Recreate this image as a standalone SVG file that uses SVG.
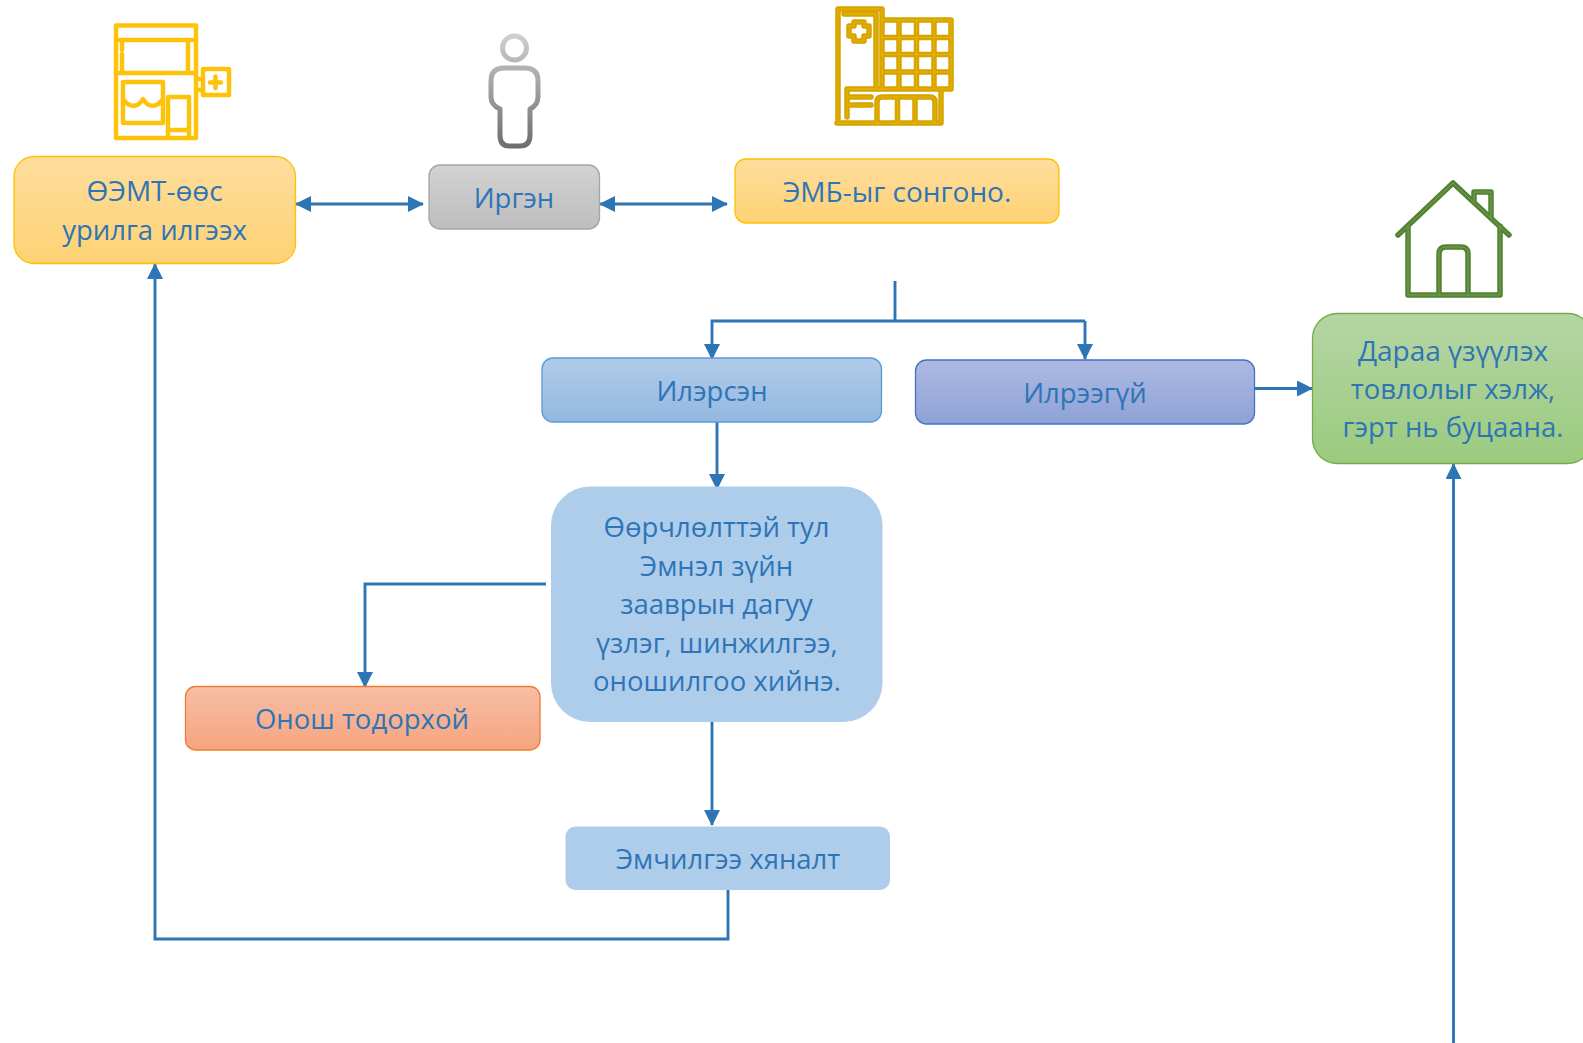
<svg xmlns="http://www.w3.org/2000/svg" width="1583" height="1043" viewBox="0 0 1583 1043">
<style>
text{font-family:"Open Sans","Noto Sans","Liberation Sans",sans-serif;font-size:27.500px;fill:#2e75b6;text-anchor:middle}
.w{font-size:28px}
.c{fill:none;stroke:#2e75b6;stroke-width:2.900}
.i{fill:none;stroke-linejoin:round;stroke-linecap:round}
</style>
<defs>
<marker id="a" markerUnits="userSpaceOnUse" markerWidth="17" markerHeight="16" refX="15" refY="8" orient="auto-start-reverse"><path d="M0 0L16 8L0 16z" fill="#2e75b6"/></marker>
<linearGradient id="y" x1="0" y1="0" x2="0" y2="1"><stop offset="0" stop-color="#fedd9d"/><stop offset="1" stop-color="#fed274"/></linearGradient>
<linearGradient id="g" x1="0" y1="0" x2="0" y2="1"><stop offset="0" stop-color="#d2d2d2"/><stop offset="1" stop-color="#bdbdbd"/></linearGradient>
<linearGradient id="b" x1="0" y1="0" x2="0" y2="1"><stop offset="0" stop-color="#b1cbe9"/><stop offset="1" stop-color="#94b8e1"/></linearGradient>
<linearGradient id="p" x1="0" y1="0" x2="0" y2="1"><stop offset="0" stop-color="#aeb9e1"/><stop offset="1" stop-color="#8ea2d7"/></linearGradient>
<linearGradient id="o" x1="0" y1="0" x2="0" y2="1"><stop offset="0" stop-color="#f7bea5"/><stop offset="1" stop-color="#f6a47f"/></linearGradient>
<linearGradient id="n" x1="0" y1="0" x2="0" y2="1"><stop offset="0" stop-color="#b5d5a4"/><stop offset="1" stop-color="#9bcb7e"/></linearGradient>
<linearGradient id="pg" gradientUnits="userSpaceOnUse" x1="0" y1="34" x2="0" y2="150"><stop offset="0" stop-color="#d0d0d0"/><stop offset="1" stop-color="#6b6b6b"/></linearGradient>
<path id="hosp" d="M838 9H882V20H951V89H941V123H837M838 123V9M844 14H876V89H847V117M882 20V89M899 20V89M916.500 20V89M934 20V89M882 37.500H951M882 54.500H951M882 72H951M847 89H941M847 97H871M847 105H871M877 123V102Q877 97 882 97H930Q935 97 935 102V123M897.500 97V123M915 97V123M854 26V22H864V26H869V36H864V41H854V36H849V26z"/>
<path id="home" d="M1398 235L1453 183L1509 235M1408 226V295H1500V226M1474 201V192H1491V218M1439 295V254Q1439 247 1446 247H1461Q1468 247 1468 254V295"/>
</defs>
<g id="connectors">
<path class="c" d="M296 204H423" marker-start="url(#a)" marker-end="url(#a)"/>
<path class="c" d="M600 204H727" marker-start="url(#a)" marker-end="url(#a)"/>
<path class="c" d="M895 281V321"/>
<path class="c" d="M1085 321H712V359" marker-end="url(#a)"/>
<path class="c" d="M1085 321V359" marker-end="url(#a)"/>
<path class="c" d="M717 422V489" marker-end="url(#a)"/>
<path class="c" d="M1254 388.500H1312" marker-end="url(#a)"/>
<path class="c" d="M546 584H365V687" marker-end="url(#a)"/>
<path class="c" d="M712 722V825" marker-end="url(#a)"/>
<path class="c" d="M728 890V939H155V264" marker-end="url(#a)"/>
<path class="c" d="M1453.500 1043V464" marker-end="url(#a)"/>
</g>
<g id="n1"><rect x="14" y="156.500" width="281.500" height="107" rx="20" fill="url(#y)" stroke="#ffc000" stroke-width="1.300"/><text class="w" x="154.500" y="201">ӨЭМТ-өөс</text><text x="154.500" y="240">урилга илгээх</text></g>
<g id="n2"><rect x="429" y="165" width="170.500" height="64" rx="11" fill="url(#g)" stroke="#a5a5a5" stroke-width="1.300"/><text x="514" y="208">Иргэн</text></g>
<g id="n3"><rect x="735" y="159" width="324" height="64" rx="11" fill="url(#y)" stroke="#ffc000" stroke-width="1.300"/><text class="w" x="897" y="202">ЭМБ-ыг сонгоно.</text></g>
<g id="n4"><rect x="542" y="358" width="339.500" height="64" rx="11" fill="url(#b)" stroke="#5b9bd5" stroke-width="1.300"/><text x="712" y="401">Илэрсэн</text></g>
<g id="n5"><rect x="915.500" y="360" width="339" height="64" rx="11" fill="url(#p)" stroke="#4472c4" stroke-width="1.300"/><text x="1085" y="403">Илрээгүй</text></g>
<g id="n6"><rect x="1312.500" y="313.500" width="280" height="150" rx="25" fill="url(#n)" stroke="#70ad47" stroke-width="1.300"/><text class="w" x="1453" y="361">Дараа үзүүлэх</text><text x="1453" y="399">товлолыг хэлж,</text><text x="1453" y="437">гэрт нь буцаана.</text></g>
<g id="n7"><rect x="551" y="486.500" width="331.500" height="235.500" rx="39" fill="#aecdeb"/><text x="716.500" y="537">Өөрчлөлттэй тул</text><text x="716.500" y="576">Эмнэл зүйн</text><text x="716.500" y="614">зааврын дагуу</text><text x="717" y="653">үзлэг, шинжилгээ,</text><text x="717" y="691">оношилгоо хийнэ.</text></g>
<g id="n8"><rect x="185.500" y="686.500" width="354.500" height="63.500" rx="10" fill="url(#o)" stroke="#ed7d31" stroke-width="1.300"/><text x="362" y="729">Онош тодорхой</text></g>
<g id="n9"><rect x="565.500" y="826.500" width="324.500" height="63.500" rx="10" fill="#aecdeb"/><text x="728" y="869">Эмчилгээ хяналт</text></g>
<g id="icon-clinic" class="i" stroke="#fdc20a" stroke-width="4.500">
<path d="M116 25.500H196V138H116z"/><path d="M116 40H196"/><path d="M122 40V50M122 54V73M188 40V73M116 73H196"/><rect x="123" y="82" width="40" height="41"/><path d="M123 99c6 9 15 9 20 0c5 9 14 9 20 0"/><path d="M168 138V97H189V138M168 130H189"/><rect x="203" y="69" width="26" height="26"/><path d="M196 79H203M196 90H203"/><path d="M215.500 76.500V88M210 82.500H221"/></g>
<g id="icon-person" class="i" stroke="url(#pg)" stroke-width="5"><circle cx="514.500" cy="48" r="12"/><path d="M504 68H525Q538 68 538 81V97Q538 105 530 109V135Q530 146 520 146H509Q500 146 500 135V109Q491 105 491 97V81Q491 68 504 68z"/></g>
<g id="icon-hospital" class="i"><use href="#hosp" stroke="#d6a300" stroke-width="5.500"/><use href="#hosp" stroke="#eab500" stroke-width="1"/></g>
<g id="icon-home" class="i"><use href="#home" stroke="#548235" stroke-width="5.500"/><use href="#home" stroke="#76a050" stroke-width="1"/></g>
</svg>
